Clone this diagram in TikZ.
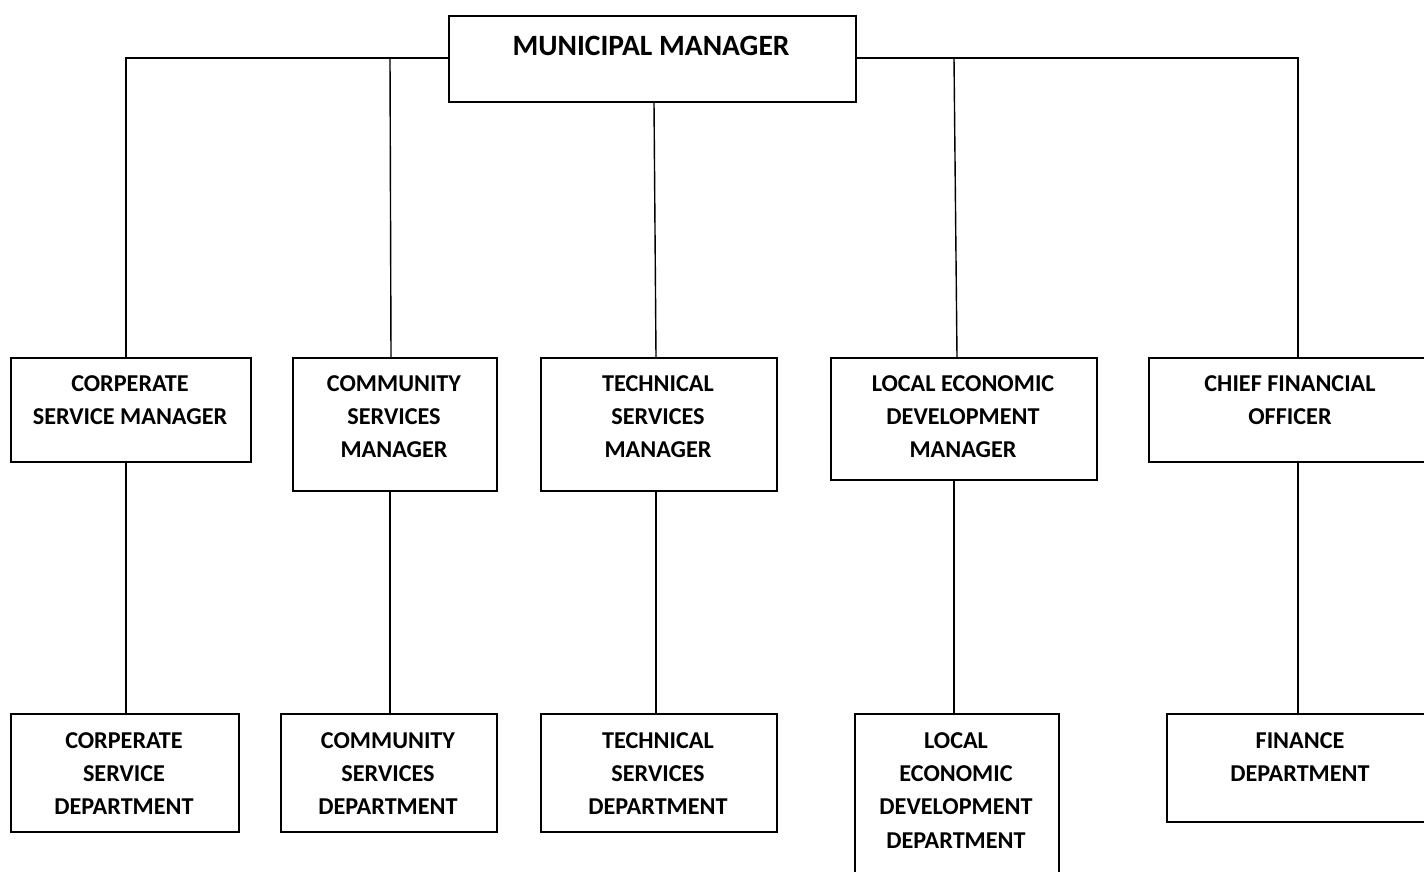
\documentclass[tikz,border=0pt]{standalone}
\usepackage{fontspec}
\setmainfont{Carlito}
\begin{document}
\begin{tikzpicture}[x=1pt,y=-1pt,
  box/.style={draw,line width=1.6pt,anchor=north west,inner sep=0pt},
  lbl/.style={font=\bfseries\fontsize{24.2}{33.3}\selectfont,align=center,anchor=north,inner sep=0pt},
  conn/.style={line width=1.4pt}]
\useasboundingbox (0,0) rectangle (1424,871);
\clip (0,0) rectangle (1424,871);
% boxes
\node[box,minimum width=407pt,minimum height=86pt] (mm) at (448,15) {};
\node[box,minimum width=240pt,minimum height=104pt] (csm) at (10,357) {};
\node[box,minimum width=204pt,minimum height=133pt] (comsm) at (292,357) {};
\node[box,minimum width=236pt,minimum height=133pt] (tsm) at (540,357) {};
\node[box,minimum width=266pt,minimum height=122pt] (ledm) at (830,357) {};
\node[box,minimum width=290pt,minimum height=104pt] (cfo) at (1148,357) {};
\node[box,minimum width=228pt,minimum height=118pt] (csd) at (10,713) {};
\node[box,minimum width=216pt,minimum height=118pt] (comsd) at (280,713) {};
\node[box,minimum width=236pt,minimum height=118pt] (tsd) at (540,713) {};
\node[box,minimum width=204pt,minimum height=180pt] (ledd) at (854,713) {};
\node[box,minimum width=270pt,minimum height=108pt] (fd) at (1166,713) {};
% labels
\node[lbl,font=\bfseries\fontsize{29.5}{34}\selectfont] (tmm) at (651,35.5) {MUNICIPAL MANAGER};
\node[lbl] (tcsm) at (130,375.3) {CORPERATE\\SERVICE MANAGER};
\node[lbl] (tcomsm) at (394,375.3) {COMMUNITY\\SERVICES\\MANAGER};
\node[lbl] (ttsm) at (658,375.3) {TECHNICAL\\SERVICES\\MANAGER};
\node[lbl] (tledm) at (963,375.3) {LOCAL ECONOMIC\\DEVELOPMENT\\MANAGER};
\node[lbl] (tcfo) at (1290,375.3) {CHIEF FINANCIAL\\OFFICER};
\node[lbl] (tcsd) at (124,732.3) {CORPERATE\\SERVICE\\DEPARTMENT};
\node[lbl] (tcomsd) at (388,732.3) {COMMUNITY\\SERVICES\\DEPARTMENT};
\node[lbl] (ttsd) at (658,732.3) {TECHNICAL\\SERVICES\\DEPARTMENT};
\node[lbl] (tledd) at (956,732.3) {LOCAL\\ECONOMIC\\DEVELOPMENT\\DEPARTMENT};
\node[lbl] (tfd) at (1300,732.3) {FINANCE\\DEPARTMENT};
% junctions
\coordinate (j1) at (126,58);
\coordinate (j2) at (390,58);
\coordinate (j4) at (954,58);
\coordinate (j5) at (1298,58);
\coordinate (c3) at (656,357);
\coordinate (b4) at (957,357);
% top connectors
\draw[conn] (mm.west |- j1) -- (j1) -- (j1 |- csm.north);
\draw[conn] (j2) -- (391,357);
\draw[conn] (mm.south -| 654,0) -- (c3);
\draw[conn] (mm.east |- j5) -- (j5) -- (j5 |- cfo.north);
\draw[conn] (j4) -- (b4);
% lower connectors
\draw[conn] (j1 |- csm.south) -- (j1 |- csd.north);
\draw[conn] (j2 |- comsm.south) -- (j2 |- comsd.north);
\draw[conn] (c3 |- tsm.south) -- (c3 |- tsd.north);
\draw[conn] (j4 |- ledm.south) -- (j4 |- ledd.north);
\draw[conn] (j5 |- cfo.south) -- (j5 |- fd.north);
\end{tikzpicture}
\end{document}
